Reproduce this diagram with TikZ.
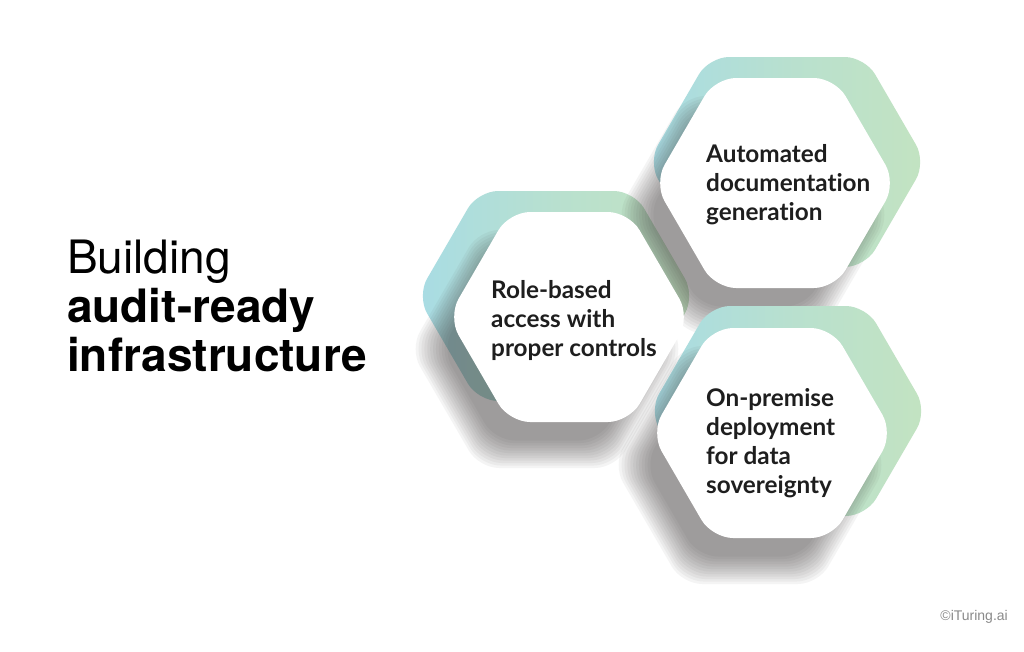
\documentclass[tikz,border=0pt]{standalone}
\usepackage{fontspec}
\newfontfamily\latofont[Ligatures=NoCommon]{Lato}
\newfontfamily\titlefont{TeX Gyre Heros}
\newfontfamily\copyfont{Liberation Sans}
\definecolor{hexblue}{HTML}{A8DCE4}
\definecolor{hexgreen}{HTML}{C3E3C1}
\definecolor{txt}{HTML}{1E1E1E}
\definecolor{copygray}{HTML}{8A8A8A}
\definecolor{shadowcol}{HTML}{3A3434}
% hexagon: centre (#1,#2), half width #3, half top edge #4, half height #5
\newcommand\hexshape[5]{({#1},{#2-(#5)}) -- ({#1+(#4)},{#2-(#5)}) -- ({#1+(#3)},{#2}) -- ({#1+(#4)},{#2+(#5)}) -- ({#1-(#4)},{#2+(#5)}) -- ({#1-(#3)},{#2}) -- ({#1-(#4)},{#2-(#5)}) -- cycle}
% soft shadow of a front hexagon centred at (#1,#2)
\newcommand\hexsoftshadow[2]{%
  \foreach \k in {0,...,11}{%
    \pgfmathsetmacro\dd{14-2.5*\k}%
    \path[shadowlayer] \hexshape{#1-22}{#2+32}{121+1.155*\dd}{60+0.577*\dd}{105+\dd};
  }}
\tikzset{
  backhex/.style={left color=hexblue, right color=hexgreen, middle color=hexblue!40!hexgreen, draw=none, rounded corners=20pt},
  fronthex/.style={fill=white, draw=none, rounded corners=21pt},
  shadowlayer/.style={fill=shadowcol, fill opacity=0.05, draw=none, rounded corners=20pt},
  hextext/.style={font=\latofont\bfseries\fontsize{24.3}{29}\selectfont, text=txt, align=left, anchor=north west, inner sep=0pt},
}
\begin{document}
\begin{tikzpicture}[x=1pt, y=-1pt]
\useasboundingbox[fill=white] (0,0) rectangle (1024,651);
% hex 1 back + shadow
\path[backhex] \hexshape{556}{296}{139}{78}{105};
\hexsoftshadow{569}{317}
% hex 2 back + shadow
\path[backhex] \hexshape{787}{162}{139}{78}{105};
\hexsoftshadow{775}{183}
% fronts 1 and 2
\path[fronthex] \hexshape{569}{317}{121}{60}{105};
\path[fronthex] \hexshape{775}{183}{121}{60}{105};
% hex 3
\path[backhex] \hexshape{788}{411}{139}{78}{105};
\hexsoftshadow{772}{433}
\path[fronthex] \hexshape{772}{433}{121}{60}{105};
% texts
\node[hextext] (t1) at (491,280) {Role-based\\access with\\proper controls};
\node[hextext] (t2) at (706,144) {Automated\\documentation\\generation};
\node[hextext] (t3) at (706,388) {On-premise\\deployment\\for data\\sovereignty};
\node[font=\titlefont\fontsize{46}{49}\selectfont, align=left, anchor=north west, inner sep=0pt, text=black] (title) at (67,240) {Building\\\textbf{audit-ready}\\\textbf{infrastructure}};
\node[font=\copyfont\fontsize{14}{16}\selectfont, text=copygray, anchor=base east, inner sep=0pt] (copy) at (1008,620) {©iTuring.ai};
\end{tikzpicture}
\end{document}
